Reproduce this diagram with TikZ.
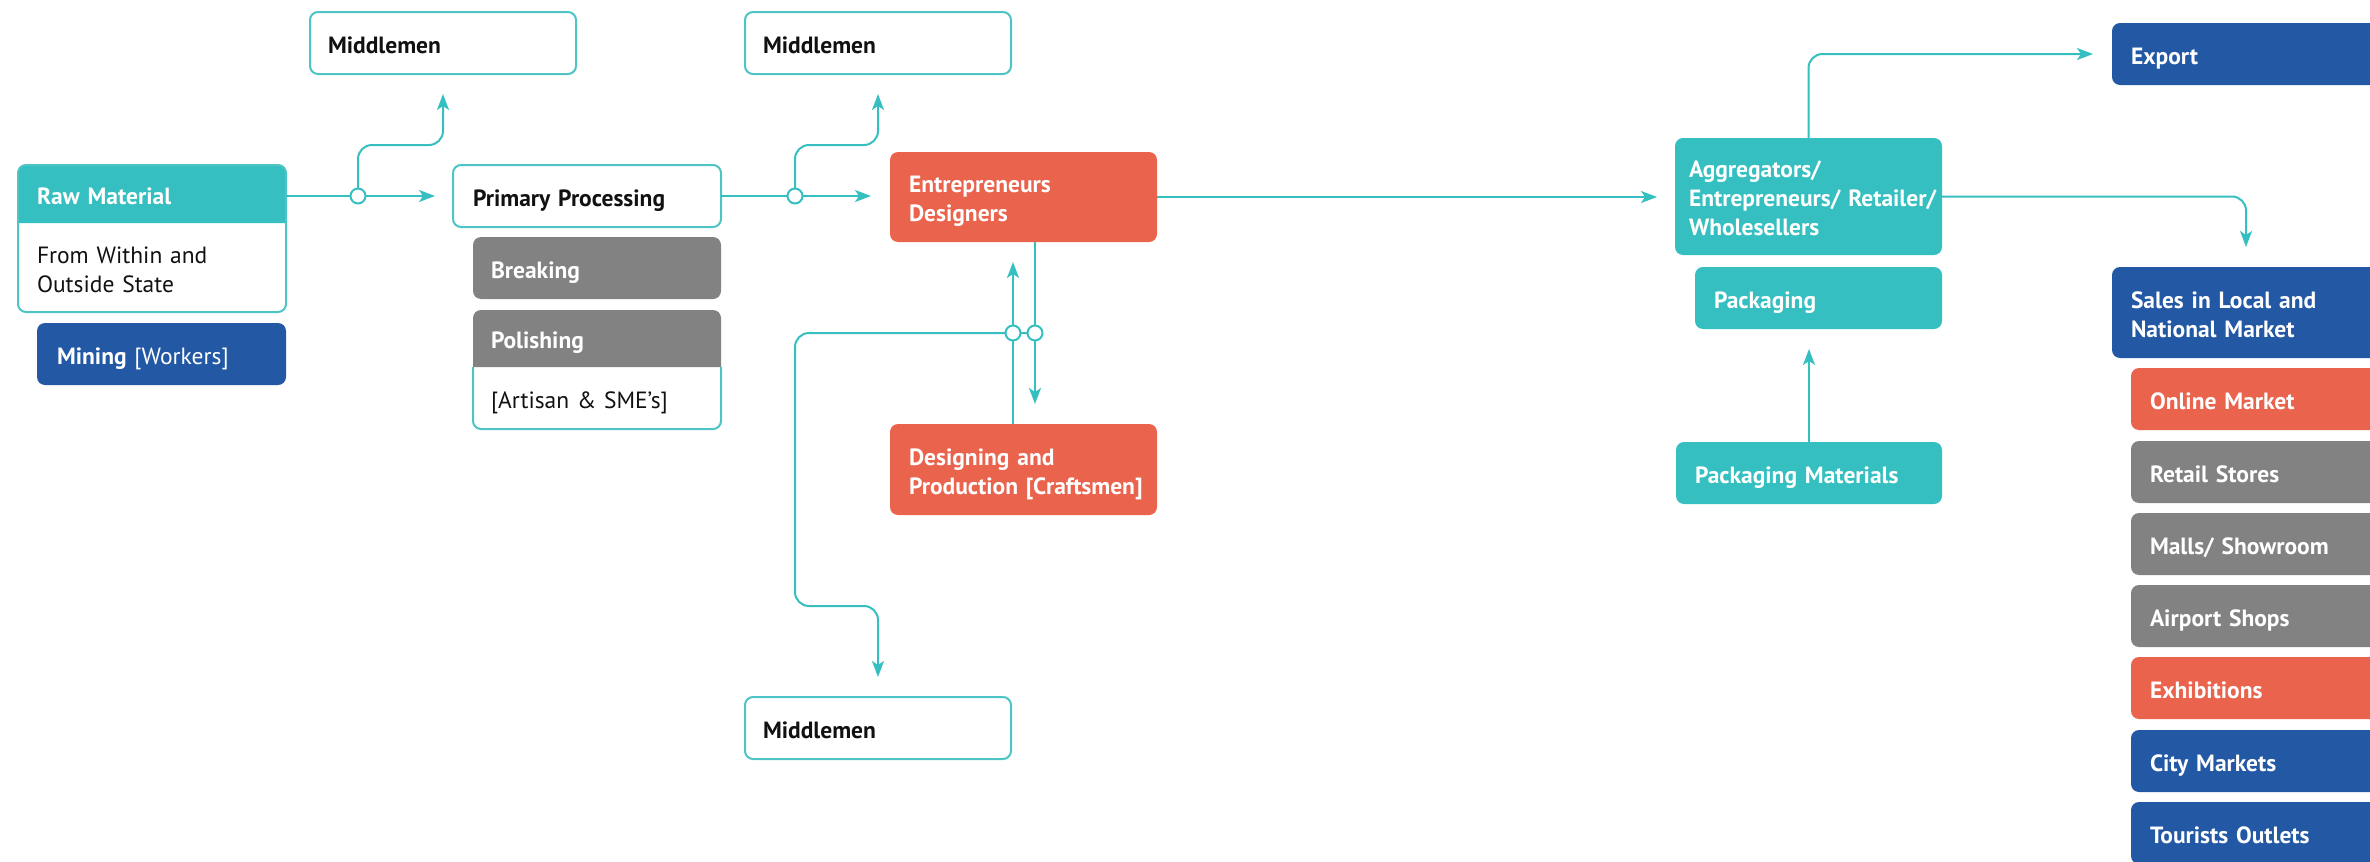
\documentclass[tikz,border=0pt]{standalone}
\usepackage{fontspec}
\setmainfont{PT Sans}
\usetikzlibrary{arrows.meta,calc}
\definecolor{tealc}{HTML}{36BFC1}
\definecolor{tealb}{HTML}{4EC4C6}
\definecolor{orangec}{HTML}{EA634D}
\definecolor{grayc}{HTML}{828282}
\definecolor{bluec}{HTML}{2358A5}
\definecolor{inkc}{HTML}{111111}
\pgfdeclarelayer{background}
\pgfsetlayers{background,main}
\begin{document}
\begin{tikzpicture}[x=1pt,y=-1pt,
  every node/.style={outer sep=0pt},
  txtset/.style={align=left, inner ysep=0pt,
    font=\fontsize{23.5}{29}\selectfont\bfseries,
    execute at begin node={\rule{0pt}{27pt}},
    execute at end node={\rule[-7pt]{0pt}{7pt}}},
  bx/.style={txtset, anchor=north west, rounded corners=8pt, text=white},
  wbx/.style={bx, draw=tealb, line width=2pt, fill=white, text=inkc},
  part/.style={txtset, anchor=north west},
  ln/.style={draw=tealc, line width=2pt},
  flow/.style={ln, -{Stealth[length=16pt,width=12pt,inset=4pt]}},
  jn/.style={circle, draw=tealc, fill=white, line width=2pt, minimum size=15pt, inner sep=0pt}]
\useasboundingbox (0,0) rectangle (2370,862);
\clip (0,0) rectangle (2370,862);

% ---------- left column ----------
\node[part, inner xsep=19pt, text width=230pt, minimum height=58pt, text=white] (rawhead) at (18,165) {Raw Material};
\node[part, inner xsep=19pt, text width=230pt, minimum height=89pt, text=inkc, font=\fontsize{23.5}{29}\selectfont\mdseries] (rawbody) at (18,223) {From Within and\\Outside State};
\node[bx, fill=bluec, inner xsep=20pt, text width=209pt, minimum height=62pt] (mining) at (37,323) {Mining {\mdseries [Workers]}};

\node[wbx, inner xsep=18pt, text width=230pt, minimum height=62pt] (mm1) at (310,12) {Middlemen};
\node[wbx, inner xsep=18pt, text width=230pt, minimum height=62pt] (mm2) at (745,12) {Middlemen};
\node[wbx, inner xsep=18pt, text width=230pt, minimum height=62pt] (mm3) at (745,697) {Middlemen};

\node[wbx, inner xsep=20pt, text width=228pt, minimum height=62pt] (pp) at (453,165) {Primary Processing};
\node[bx, fill=grayc, inner xsep=18pt, text width=212pt, minimum height=62pt] (brk) at (473,237) {Breaking};
\node[part, inner xsep=18pt, text width=212pt, minimum height=57pt, text=white] (polhead) at (473,310) {Polishing};
\node[part, inner xsep=18pt, text width=212pt, minimum height=62pt, text=inkc, font=\fontsize{23.5}{29}\selectfont\mdseries] (polbody) at (473,367) {[Artisan \& SME's]};

% ---------- middle ----------
\node[bx, fill=orangec, inner xsep=19pt, text width=229pt, minimum height=90pt] (ent) at (890,152) {Entrepreneurs\\Designers};
\node[bx, fill=orangec, inner xsep=19pt, text width=229pt, minimum height=91pt] (des) at (890,424) {Designing and\\\mbox{Production [Craftsmen]}};

% ---------- right ----------
\node[bx, fill=tealc, inner xsep=14pt, text width=239pt, minimum height=117pt] (agg) at (1675,138) {Aggregators/\\\mbox{Entrepreneurs/ Retailer/}\\Wholesellers};
\node[bx, fill=tealc, inner xsep=19pt, text width=209pt, minimum height=62pt] (pack) at (1695,267) {Packaging};
\node[bx, fill=tealc, inner xsep=19pt, text width=228pt, minimum height=62pt] (pm) at (1676,442) {Packaging Materials};

\node[bx, fill=bluec, inner xsep=19pt, text width=262pt, minimum height=62pt] (exp) at (2112,23) {Export};
\node[bx, fill=bluec, inner xsep=19pt, text width=262pt, minimum height=91pt] (sales) at (2112,267) {Sales in Local and\\National Market};
\node[bx, fill=orangec, inner xsep=19pt, text width=262pt, minimum height=62pt] (online) at (2131,368) {Online Market};
\node[bx, fill=grayc, inner xsep=19pt, text width=262pt, minimum height=62pt] (retail) at (2131,441) {Retail Stores};
\node[bx, fill=grayc, inner xsep=19pt, text width=262pt, minimum height=62pt] (malls) at (2131,513) {Malls/ Showroom};
\node[bx, fill=grayc, inner xsep=19pt, text width=262pt, minimum height=62pt] (airport) at (2131,585) {Airport Shops};
\node[bx, fill=orangec, inner xsep=19pt, text width=262pt, minimum height=62pt] (exhib) at (2131,657) {Exhibitions};
\node[bx, fill=bluec, inner xsep=19pt, text width=262pt, minimum height=62pt] (city) at (2131,730) {City Markets};
\node[bx, fill=bluec, inner xsep=19pt, text width=262pt, minimum height=62pt] (tour) at (2131,802) {Tourists Outlets};

% ---------- composite box backgrounds ----------
\begin{pgfonlayer}{background}
  \fill[white, rounded corners=8pt] (rawhead.north west) rectangle (rawbody.south east);
  \fill[tealc] (rawhead.south west) [rounded corners=8pt] -- (rawhead.north west) -- (rawhead.north east) [sharp corners] -- (rawhead.south east) -- cycle;
  \fill[white, rounded corners=8pt] (polhead.north west) rectangle (polbody.south east);
  \fill[grayc] (polhead.south west) [rounded corners=8pt] -- (polhead.north west) -- (polhead.north east) [sharp corners] -- (polhead.south east) -- cycle;
\end{pgfonlayer}
\draw[tealb, line width=2pt, rounded corners=8pt] (rawhead.north west) rectangle (rawbody.south east);
\draw[tealb, line width=2pt, rounded corners=8pt] (polbody.north west) [sharp corners] -- (polbody.south west |- polbody.north west) [rounded corners=8pt] -- (polbody.south west) -- (polbody.south east) [sharp corners] -- (polbody.north east);

% ---------- junctions and bends ----------
\coordinate (c1) at (358,196);
\coordinate (c2) at (795,196);
\coordinate (c3) at (1013,333);
\coordinate (c4) at (1035,333);
\coordinate (b1) at (443,145);
\coordinate (b2) at (878,145);
\coordinate (b3) at (795,606);
\coordinate (salestop) at ([xshift=134pt]sales.north west);

% ---------- connectors ----------
\draw[flow, shorten >=18pt] (rawhead.east |- c1) -- (pp.west |- c1);
\draw[flow, rounded corners=14pt, shorten >=20pt] (c1) |- (b1) -- (mm1.south);
\draw[flow, shorten >=19pt] (pp.east |- c2) -- (ent.west |- c2);
\draw[flow, rounded corners=14pt, shorten >=20pt] (c2) |- (b2) -- (mm2.south);
\draw[flow, shorten >=18pt] (ent.east) -- (agg.west |- ent.east);
\draw[flow, shorten >=20pt] (ent.south -| c4) -- (des.north -| c4);
\draw[flow, shorten >=20pt] (des.north -| c3) -- (ent.south -| c3);
\draw[flow, rounded corners=14pt, shorten >=20pt] (c4) -- (c3) -- (b3 |- c3) -- (b3) -| (mm3.north);
\draw[flow, rounded corners=14pt, shorten >=19pt] (agg.north) |- (exp.west);
\draw[flow, rounded corners=14pt, shorten >=20pt] (agg.east) -| (salestop);
\draw[flow, shorten >=20pt] (pm.north) -- (pack.south -| pm.north);

\node[jn] (j1) at (c1) {};
\node[jn] (j2) at (c2) {};
\node[jn] (j3) at (c3) {};
\node[jn] (j4) at (c4) {};
\end{tikzpicture}
\end{document}
